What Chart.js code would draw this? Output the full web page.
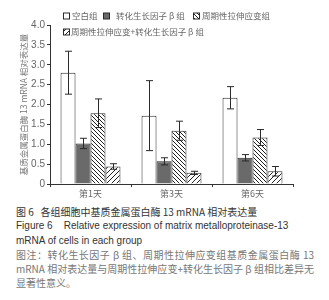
<!DOCTYPE html>
<html><head><meta charset="utf-8">
<script src="https://cdn.jsdelivr.net/npm/chart.js@4"></script>
<style>
html,body{margin:0;padding:0;background:#fff;width:329px;height:300px;overflow:hidden}
#wrap{position:absolute;left:0;top:0;width:329px;height:200px}
#cap{position:absolute;left:16px;top:205px;width:298px;font-size:10px;line-height:14.3px;font-family:"Liberation Sans","Noto Sans CJK SC",sans-serif;color:#333}
#cap .cn{font-family:"Noto Sans CJK SC",sans-serif}
#cap .note{color:#777;font-family:"Noto Sans CJK SC",sans-serif}
#cap .j{text-align:justify;text-align-last:justify;white-space:nowrap}
</style></head>
<body>
<div id="wrap"><canvas id="c" width="329" height="200"></canvas></div>
<div id="cap">
<div class="cn">图 6&nbsp;&nbsp;&nbsp;各组细胞中基质金属蛋白酶 13 mRNA 相对表达量</div>
<div>Figure 6&nbsp;&nbsp;&nbsp;&nbsp;Relative expression of matrix metalloproteinase-13</div>
<div>mRNA of cells in each group</div>
<div class="note j">图注：转化生长因子 β 组、周期性拉伸应变组基质金属蛋白酶 13</div>
<div class="note j">mRNA 相对表达量与周期性拉伸应变+转化生长因子 β 组相比差异无</div>
<div class="note">显著性意义。</div>
</div>
<script>
const categories = ['第1天', '第3天', '第6天'];
const seriesNames = ['空白组', '转化生长因子 β 组', '周期性拉伸应变组', '周期性拉伸应变+转化生长因子 β 组'];
const blankMean = [2.80, 1.72, 2.17];
const blankSD = [0.54, 0.88, 0.28];
const tgfMean = [1.02, 0.57, 0.66];
const tgfSD = [0.13, 0.09, 0.08];
const strainMean = [1.78, 1.34, 1.17];
const strainSD = [0.36, 0.24, 0.20];
const comboMean = [0.44, 0.28, 0.32];
const comboSD = [0.07, 0.04, 0.12];
const yTicks = [0, 0.5, 1.0, 1.5, 2.0, 2.5, 3.0, 3.5, 4.0];
const yTitle = '基质金属蛋白酶 13 mRNA 相对表达量';

function makePattern(size, dir) {
  const c = document.createElement('canvas');
  c.width = size; c.height = size;
  const g = c.getContext('2d');
  g.fillStyle = '#fff'; g.fillRect(0, 0, size, size);
  g.strokeStyle = '#222'; g.lineWidth = 1;
  g.beginPath();
  if (dir === 'back') {
    g.moveTo(-1, -1); g.lineTo(size + 1, size + 1);
    g.moveTo(-1, size - 1); g.lineTo(1, size + 1);
    g.moveTo(size - 1, -1); g.lineTo(size + 1, 1);
  } else {
    g.moveTo(-1, size + 1); g.lineTo(size + 1, -1);
    g.moveTo(-1, 1); g.lineTo(1, -1);
    g.moveTo(size - 1, size + 1); g.lineTo(size + 1, size - 1);
  }
  g.stroke();
  return g.createPattern(c, 'repeat');
}
const patBack = makePattern(4, 'back');
const patFwd = makePattern(5, 'fwd');

const means = [blankMean, tgfMean, strainMean, comboMean];
const sds = [blankSD, tgfSD, strainSD, comboSD];
const fills = ['#ffffff', '#6a6a6a', patBack, patFwd];

const datasets = seriesNames.map((n, i) => ({
  label: n,
  data: means[i],
  sd: sds[i],
  backgroundColor: fills[i],
  borderColor: '#2a2a2a',
  borderWidth: 1,
  categoryPercentage: 0.74,
  barPercentage: 1.0
}));

const errorBars = {
  id: 'errorBars',
  afterDatasetsDraw(chart) {
    const ctx = chart.ctx, y = chart.scales.y;
    ctx.save();
    ctx.strokeStyle = '#2a2a2a'; ctx.lineWidth = 1;
    chart.data.datasets.forEach((ds, di) => {
      chart.getDatasetMeta(di).data.forEach((bar, j) => {
        const m = ds.data[j], s = ds.sd[j];
        const x = Math.round(bar.x) + 0.5;
        const yt = y.getPixelForValue(m + s), yb = y.getPixelForValue(m - s);
        ctx.beginPath();
        ctx.moveTo(x, yt); ctx.lineTo(x, yb);
        ctx.moveTo(x - 3.5, yt); ctx.lineTo(x + 3.5, yt);
        ctx.moveTo(x - 3.5, yb); ctx.lineTo(x + 3.5, yb);
        ctx.stroke();
      });
    });
    ctx.restore();
  }
};

const customLegend = {
  id: 'customLegend',
  afterDraw(chart) {
    const ctx = chart.ctx;
    const boxX = [63, 103, 193, 63], rowY = [16, 16, 16, 32], textX = [72, 116, 202, 71];
    ctx.save();
    ctx.font = '8.5px "Noto Sans CJK SC", sans-serif';
    ctx.textBaseline = 'middle';
    chart.data.datasets.forEach((ds, i) => {
      ctx.fillStyle = ds.backgroundColor;
      ctx.fillRect(boxX[i] + 0.5, rowY[i] - 3, 6, 6);
      ctx.strokeStyle = '#2a2a2a'; ctx.lineWidth = 1;
      ctx.strokeRect(boxX[i] + 0.5, rowY[i] - 3, 6, 6);
      ctx.fillStyle = '#666';
      ctx.fillText(ds.label, textX[i], rowY[i]);
    });
    ctx.restore();
  }
};

new Chart(document.getElementById('c'), {
  type: 'bar',
  data: { labels: categories, datasets },
  plugins: [errorBars, customLegend],
  options: {
    responsive: false,
    animation: false,
    devicePixelRatio: 1,
    layout: { padding: { top: 25, right: 36, left: 0, bottom: 0 } },
    plugins: { legend: { display: false }, tooltip: { enabled: false } },
    scales: {
      x: {
        afterFit(s) { s.height = 16; },
        grid: { display: true, drawOnChartArea: false, tickLength: 3, color: '#333', offset: true },
        border: { color: '#333', width: 1 },
        ticks: { color: '#666', padding: 1, font: { size: 9, family: '"Noto Sans CJK SC", sans-serif' } }
      },
      y: {
        min: 0, max: 4,
        afterFit(s) { s.width = 50; },
        afterBuildTicks(s) { s.ticks = yTicks.map(v => ({ value: v })); },
        grid: { display: true, drawOnChartArea: false, tickLength: 3, color: '#333' },
        border: { color: '#333', width: 1 },
        ticks: {
          color: '#666', padding: 2,
          font: { size: 10, family: '"Liberation Sans", sans-serif' },
          callback: v => v === 0 ? '0' : Number(v).toFixed(1)
        },
        title: {
          display: true, text: yTitle, color: '#777',
          padding: { top: 19, bottom: 0 },
          font: { size: 8.5, family: '"Noto Sans CJK SC", sans-serif' }
        }
      }
    }
  }
});
</script>
</body></html>
